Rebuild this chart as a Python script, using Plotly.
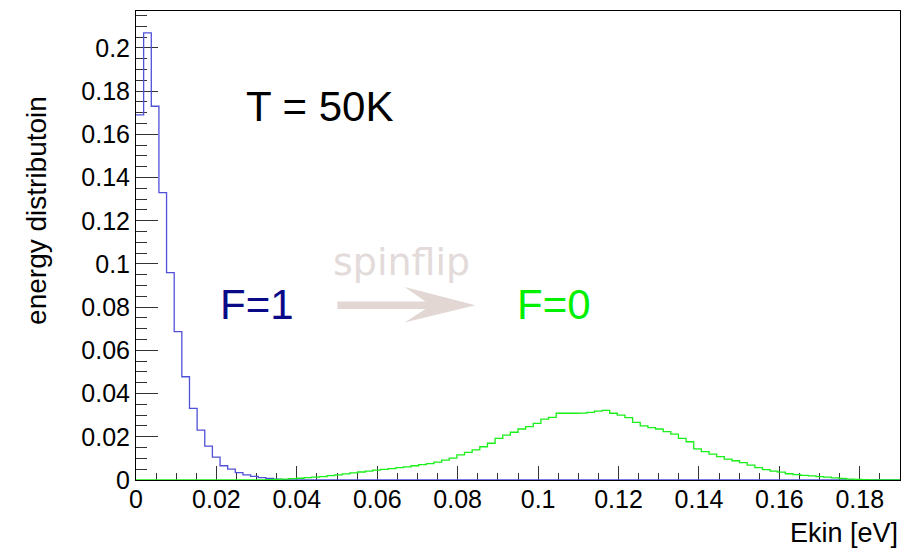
import numpy as np
import plotly.graph_objects as go

# 100 bins of kinetic energy, 0 .. 0.19 eV
n_bins = 100
e_min, e_max = 0.0, 0.19

# F=1 hyperfine state: energy distribution per bin
f1_values = [
    0.169, 0.207, 0.173, 0.133, 0.096, 0.0687, 0.0478, 0.0332, 0.0231, 0.0157,
    0.0106, 0.0066, 0.0050, 0.0034, 0.0024, 0.0017, 0.0011, 0.0007, 0.0004, 0.0002,
    0.0001,
] + [0.0] * 79

# F=0 hyperfine state after the spin flip
f0_values = [0.0] * 16 + [
    0.0001, 0.0002, 0.0003, 0.0004, 0.0006, 0.0008, 0.0011, 0.0013, 0.0016, 0.0020,
    0.0024, 0.0028, 0.0033, 0.0037, 0.0041, 0.0046, 0.0049, 0.0053, 0.0057, 0.0061,
    0.0066, 0.0071, 0.0076, 0.0083, 0.0092, 0.0101, 0.0116, 0.0128, 0.0139, 0.0154,
    0.0170, 0.0193, 0.0208, 0.0221, 0.0236, 0.0247, 0.0262, 0.0282, 0.0290, 0.0309,
    0.0309, 0.0309, 0.0310, 0.0313, 0.0319, 0.0322, 0.0309, 0.0300, 0.0289, 0.0267,
    0.0251, 0.0242, 0.0236, 0.0224, 0.0212, 0.0193, 0.0177, 0.0144, 0.0131, 0.0120,
    0.0108, 0.0097, 0.0089, 0.0080, 0.0069, 0.0057, 0.0048, 0.0041, 0.0036, 0.0029,
    0.0025, 0.0021, 0.0019, 0.0016, 0.0013, 0.0010, 0.0007, 0.0004, 0.0003, 0.0002,
    0.0001, 0.0001, 0.00005, 0.0,
]

x_ticks = [0, 0.02, 0.04, 0.06, 0.08, 0.1, 0.12, 0.14, 0.16, 0.18]
x_tick_labels = ["0", "0.02", "0.04", "0.06", "0.08", "0.1", "0.12", "0.14", "0.16", "0.18"]
y_ticks = [0, 0.02, 0.04, 0.06, 0.08, 0.1, 0.12, 0.14, 0.16, 0.18, 0.2]
y_tick_labels = ["0", "0.02", "0.04", "0.06", "0.08", "0.1", "0.12", "0.14", "0.16", "0.18", "0.2"]

edges = np.linspace(e_min, e_max, n_bins + 1)


def step_xy(values):
    """Histogram outline: one horizontal segment per bin."""
    y = list(values) + [values[-1]]
    return edges, y


FONT = "Liberation Sans, Arial, sans-serif"

fig = go.Figure()

x1, y1 = step_xy(f1_values)
fig.add_trace(go.Scatter(x=x1, y=y1, mode="lines", line=dict(color="#5050d8", width=1.3, shape="hv"),
                         hoverinfo="skip", showlegend=False))
x0, y0 = step_xy(f0_values)
fig.add_trace(go.Scatter(x=x0, y=y0, mode="lines", line=dict(color="#18f018", width=1.3, shape="hv"),
                         hoverinfo="skip", showlegend=False))

# spin-flip arrow between the two labels
arrow_path = ("M 0.0501,0.0792 L 0.0720,0.0792 L 0.0668,0.0729 L 0.0844,0.0809 "
              "L 0.0668,0.0893 L 0.0720,0.0826 L 0.0501,0.0826 Z")
fig.add_shape(type="path", path=arrow_path, xref="x", yref="y",
              fillcolor="#e2d7d3", line=dict(width=0), layer="above")

annotations = [
    dict(text="T = 50K", x=0.0458, y=0.1729, font=dict(size=42, color="black", family=FONT)),
    dict(text="F=1", x=0.0300, y=0.0813, font=dict(size=42, color="#0a0a88", family=FONT)),
    dict(text="F=0", x=0.1039, y=0.0813, font=dict(size=42, color="#00f000", family=FONT)),
    dict(text="spinflip", x=0.0660, y=0.1009,
         font=dict(size=38, color="#e3dada", family="DejaVu Sans, sans-serif")),
]
for a in annotations:
    fig.add_annotation(xref="x", yref="y", showarrow=False, xanchor="center", yanchor="middle", **a)

# axis titles, placed as in ROOT: right / top aligned
fig.add_annotation(text="Ekin [eV]", xref="paper", yref="paper", x=1.0, y=-0.112,
                   xanchor="right", yanchor="middle", showarrow=False,
                   font=dict(size=27, color="black", family=FONT))
fig.add_annotation(text="energy distributoin", xref="paper", yref="paper", x=-0.1297, y=0.5757,
                   xanchor="center", yanchor="middle", textangle=-90, showarrow=False,
                   font=dict(size=28, color="black", family=FONT))

axis_common = dict(
    showline=True, linecolor="black", linewidth=1, mirror=True,
    showgrid=False, zeroline=False, ticks="inside", tickcolor="#333333", tickwidth=1,
    tickfont=dict(size=25, color="black", family=FONT), layer="below traces",
)

fig.update_xaxes(range=[e_min, e_max], tickvals=x_ticks, ticktext=x_tick_labels, ticklen=14,
                 ticklabelstandoff=-3,
                 minor=dict(dtick=0.005, tick0=0, ticks="inside", ticklen=7, tickcolor="#333333"),
                 **axis_common)
fig.update_yaxes(range=[0, 0.2171], tickvals=y_ticks, ticktext=y_tick_labels, ticklen=22,
                 minor=dict(dtick=0.005, tick0=0, ticks="inside", ticklen=11, tickcolor="#333333"),
                 **axis_common)

fig.update_layout(
    width=912, height=552,
    margin=dict(l=136, r=12, t=11, b=72),
    paper_bgcolor="white", plot_bgcolor="white",
    showlegend=False,
)

fig.write_html("out.html")
